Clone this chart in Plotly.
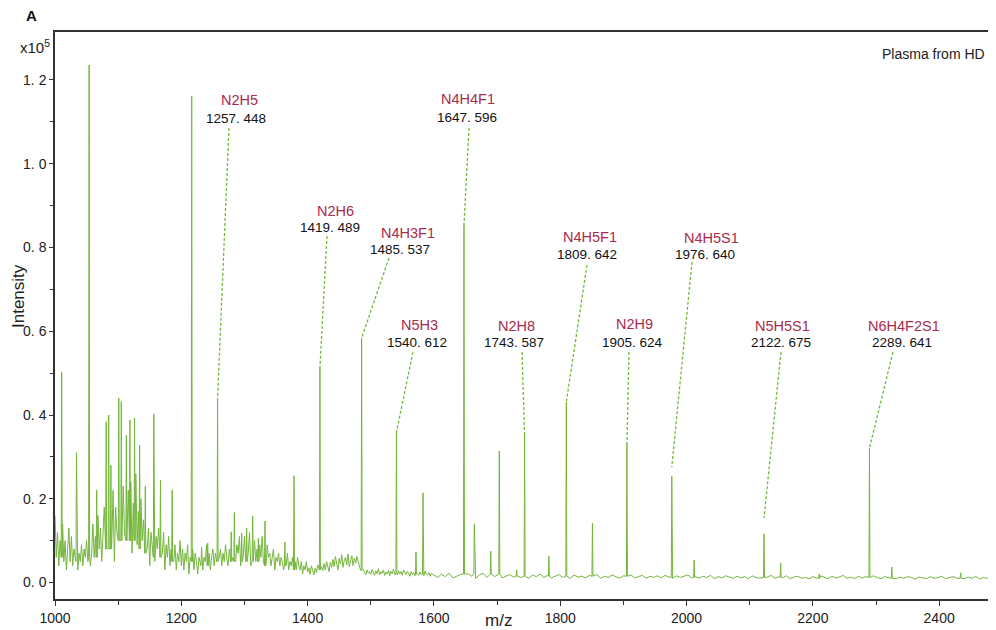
import plotly.graph_objects as go

# ---------------- data (intensity in units of 1e5) ----------------
NOISE_A_START, NOISE_A_STEP = 1000, 2
NOISE_A = [
    .16, .06, .12, .04, .10, .08, .14, .05, .10, .03,
    .09, .13, .05, .11, .04, .08, .06, .12, .03, .07,
    .05, .09, .04, .08, .06, .10, .05, .09, .04, .07,
    .14, .06, .11, .04, .16, .08, .13, .05, .12, .18,
    .09, .20, .07, .14, .26, .10, .22, .05, .18, .12,
    .25, .09, .20, .06, .23, .12, .28, .08, .22, .14,
    .24, .07, .19, .11, .26, .09, .17, .06, .20, .10,
    .15, .05, .18, .08, .13, .04, .12, .09, .14, .05,
    .11, .08, .13, .04, .10, .07, .12, .03, .09, .06,
    .11, .04, .08, .15, .05, .09, .03, .07, .05, .10,
]
NOISE_B_START, NOISE_B_STEP = 1200, 2
NOISE_B = [
    .04, .08, .03, .07, .05, .09, .02, .06, .04, .08,
    .03, .07, .05, .02, .06, .04, .08, .03, .06, .05,
    .09, .04, .07, .03, .06, .08, .04, .07, .05, .10,
    .06, .08, .04, .07, .05, .09, .06, .04, .08, .05,
    .10, .06, .12, .05, .09, .07, .11, .04, .08, .06,
    .11, .05, .09, .07, .12, .04, .08, .06, .10, .05,
    .08, .04, .09, .06, .11, .05, .07, .04, .09, .06,
    .07, .04, .06, .08, .03, .06, .05, .07, .04, .06,
    .05, .03, .06, .04, .07, .03, .05, .04, .06, .03,
    .05, .03, .06, .04, .03, .05, .02, .04, .03, .05,
]
NOISE_C_START, NOISE_C_STEP = 1400, 2
NOISE_C = [
    .025, .035, .020, .040, .028, .018, .034, .024, .042, .030,
    .022, .038, .028, .045, .030, .050, .034, .026, .048, .036,
    .055, .038, .062, .040, .030, .058, .044, .066, .036, .052,
    .060, .042, .068, .038, .054, .064, .040, .058, .046, .062,
    .050, .036, .028, .020, .032, .024, .018, .030, .022, .026,
    .019, .031, .024, .017, .028, .021, .033, .018, .026, .022,
    .030, .017, .025, .020, .029, .016, .027, .021, .032, .019,
    .024, .018, .028, .020, .026, .017, .030, .022, .019, .027,
    .021, .015, .026, .019, .024, .016, .028, .020, .017, .025,
    .019, .023, .016, .027, .020, .018, .024, .015, .022, .019,
]
NOISE_D_START, NOISE_D_STEP = 1600, 6
NOISE_D = [
    .018, .012, .020, .014, .022, .011, .016, .019, .013, .021,
    .015, .010, .018, .022, .012, .017, .014, .020, .011, .016,
    .019, .013, .021, .012, .016, .010, .018, .014, .020, .012,
    .017, .011, .015, .019, .012, .016, .010, .018, .013, .015,
    .011, .017, .013, .019, .010, .015, .012, .018, .014, .010,
    .016, .012, .018, .011, .014, .017, .010, .015, .012, .016,
    .011, .017, .013, .010, .016, .012, .015, .018, .011, .014,
    .010, .015, .012, .017, .009, .014, .011, .016, .013, .010,
    .015, .011, .014, .009, .016, .012, .010, .015, .013, .017,
    .010, .014, .011, .016, .009, .013, .015, .010, .012, .009,
    .014, .010, .016, .012, .009, .015, .011, .013, .017, .010,
    .013, .009, .015, .011, .014, .010, .016, .012, .009, .014,
    .011, .015, .009, .013, .010, .014, .012, .008, .013, .011,
    .009, .014, .010, .012, .015, .009, .011, .014, .010, .012,
    .009, .013, .010, .015, .008, .012, .010, .014, .011,
]

# peaks: apex m/z, apex intensity, local baseline at the foot
PEAK_MZ = [1010.6, 1034, 1054, 1066, 1081, 1085, 1088.5, 1101, 1105, 1113,
           1118.6, 1126, 1134, 1143, 1156.5, 1167, 1185.5, 1216.5, 1232, 1241.8,
           1257.448, 1279, 1284, 1295.6, 1303.5, 1313, 1322, 1332.5, 1364, 1378.5,
           1419.489, 1485.537, 1540.612, 1571.6, 1582.7, 1647.596, 1664, 1690, 1703.5, 1731,
           1743.587, 1782, 1809.642, 1851, 1905.624, 1976.640, 2012, 2122.675, 2149, 2210,
           2289.641, 2325, 2434]
PEAK_HEIGHT = [0.503, 0.31, 1.236, 0.221, 0.384, 0.40, 0.28, 0.44, 0.432, 0.352,
               0.388, 0.393, 0.328, 0.23, 0.402, 0.245, 0.221, 1.162, 0.085, 0.094,
               0.441, 0.121, 0.167, 0.118, 0.13, 0.159, 0.106, 0.147, 0.097, 0.255,
               0.512, 0.584, 0.359, 0.073, 0.214, 0.854, 0.14, 0.075, 0.314, 0.03,
               0.352, 0.063, 0.431, 0.142, 0.331, 0.254, 0.054, 0.116, 0.047, 0.02,
               0.321, 0.037, 0.023]
PEAK_FOOT = [0.06, 0.05, 0.06, 0.06, 0.08, 0.08, 0.08, 0.10, 0.10, 0.10,
             0.10, 0.10, 0.08, 0.07, 0.06, 0.06, 0.05, 0.05, 0.04, 0.04,
             0.05, 0.05, 0.05, 0.05, 0.05, 0.05, 0.05, 0.04, 0.04, 0.03,
             0.03, 0.03, 0.02, 0.02, 0.02, 0.02, 0.02, 0.02, 0.02, 0.015,
             0.015, 0.015, 0.015, 0.015, 0.015, 0.012, 0.012, 0.012, 0.012, 0.01,
             0.012, 0.01, 0.01]

# annotated glycans
LABEL_NAMES = ["N2H5", "N2H6", "N4H3F1", "N5H3", "N4H4F1", "N2H8", "N4H5F1",
               "N2H9", "N4H5S1", "N5H5S1", "N6H4F2S1"]
LABEL_MASSES = ["1257. 448", "1419. 489", "1485. 537", "1540. 612", "1647. 596",
                "1743. 587", "1809. 642", "1905. 624", "1976. 640", "2122. 675",
                "2289. 641"]

Y_TICKS = [0.0, 0.2, 0.4, 0.6, 0.8, 1.0, 1.2]
Y_TICKTEXT = ["0. 0", "0. 2", "0. 4", "0. 6", "0. 8", "1. 0", "1. 2"]
X_TICKS = [1000, 1200, 1400, 1600, 1800, 2000, 2200, 2400]

# ---------------- layout constants ----------------
PAGE_W, PAGE_H = 996, 630
BODY_OFF = 8                      # default page margin around the plot div
PL, PT, PB = 55, 32, 599          # plot edges in page pixels
PW, PH = PAGE_W - PL, PB - PT
W_FIG, H_FIG = PAGE_W - BODY_OFF, PAGE_H - BODY_OFF
L, T, R, B = PL - BODY_OFF, PT - BODY_OFF, 0, H_FIG - (PB - BODY_OFF)
X0, X1 = 1000, 2490
Y0, Y1 = -0.0394, 1.3146
FONT = "Liberation Sans, Arial, Helvetica, sans-serif"
GREEN = "#74b63c"
RED = "#a82c4c"
HALF_W = 0.8

def px_x(px):
    return X0 + (px - PL) / PW * (X1 - X0)

def px_y(py):
    return Y1 - (py - PT) / PH * (Y1 - Y0)

def paper_x(px):
    return (px - PL) / PW

def paper_y(py):
    return 1 - (py - PT) / PH

# label placement in page pixels: name centre, number centre, leader start, leader gap above apex
LABEL_PLACE = [
    ((239, 100), (236, 118), (229, 128), 0),
    ((335, 211), (330, 227), (327, 236), 0),
    ((408, 233), (400, 249), (389, 258), 0),
    ((419, 325), (417, 342), (413, 352), 0),
    ((468, 99), (467, 117), (469, 128), 0),
    ((516, 326), (514, 342), (522, 352), 0),
    ((590, 237), (587, 254), (587, 265), 0),
    ((634, 324), (632, 342), (629, 352), 0),
    ((711, 238), (705, 254), (692, 262), 9),
    ((782, 326), (781, 342), (781, 352), 16),
    ((904, 326), (902, 342), (893, 352), 0),
]

# ---------------- build spectrum ----------------
pts = []
for start, step, vals in [(NOISE_A_START, NOISE_A_STEP, NOISE_A),
                          (NOISE_B_START, NOISE_B_STEP, NOISE_B),
                          (NOISE_C_START, NOISE_C_STEP, NOISE_C),
                          (NOISE_D_START, NOISE_D_STEP, NOISE_D)]:
    for i, v in enumerate(vals):
        m = start + step * i
        if any(abs(m - p) < 1.2 for p in PEAK_MZ):
            continue
        pts.append((m, v))
for m, h, f in zip(PEAK_MZ, PEAK_HEIGHT, PEAK_FOOT):
    pts += [(m - HALF_W, f), (m, h), (m + HALF_W, f)]
pts.sort()
xs = [p[0] for p in pts]
ys = [p[1] for p in pts]

fig = go.Figure()
fig.add_trace(go.Scatter(x=xs, y=ys, mode="lines",
                         line=dict(color=GREEN, width=1), hoverinfo="skip",
                         showlegend=False))

annotations = []
shapes = []
px_per_unit = PH / (Y1 - Y0)
for name, mass, place in zip(LABEL_NAMES, LABEL_MASSES, LABEL_PLACE):
    (nx, ny), (mx, my), (sx, sy), gap = place
    annotations.append(dict(x=px_x(nx), y=px_y(ny), text=name, showarrow=False,
                            xanchor="center", yanchor="middle",
                            font=dict(family=FONT, size=14.5, color=RED)))
    annotations.append(dict(x=px_x(mx), y=px_y(my), text=mass, showarrow=False,
                            xanchor="center", yanchor="middle",
                            font=dict(family=FONT, size=13.5, color="#111111")))
    pk = float(mass.replace(" ", ""))
    idx = min(range(len(PEAK_MZ)), key=lambda k: abs(PEAK_MZ[k] - pk))
    shapes.append(dict(type="line", xref="x", yref="y",
                       x0=px_x(sx), y0=px_y(sy),
                       x1=PEAK_MZ[idx], y1=PEAK_HEIGHT[idx] + gap / px_per_unit,
                       line=dict(color=GREEN, width=1.3, dash="3px,2px")))

annotations += [
    dict(xref="paper", yref="paper", x=paper_x(31), y=paper_y(15), text="<b>A</b>",
         showarrow=False, xanchor="center", yanchor="middle",
         font=dict(family=FONT, size=15, color="#111111")),
    dict(xref="paper", yref="paper", x=paper_x(35), y=paper_y(46), text="x10<sup>5</sup>",
         showarrow=False, xanchor="center", yanchor="middle",
         font=dict(family=FONT, size=15, color="#222222")),
    dict(xref="paper", yref="paper", x=paper_x(987), y=paper_y(54), text="Plasma from HD",
         showarrow=False, xanchor="right", yanchor="middle",
         font=dict(family=FONT, size=14, color="#222222")),
    dict(xref="paper", yref="paper", x=paper_x(498), y=paper_y(620), text="m/z",
         showarrow=False, xanchor="center", yanchor="middle",
         font=dict(family=FONT, size=17, color="#222222")),
    dict(xref="paper", yref="paper", x=paper_x(18), y=paper_y(296), text="Intensity",
         showarrow=False, xanchor="center", yanchor="middle", textangle=-90,
         font=dict(family=FONT, size=17, color="#222222")),
]

fig.update_layout(
    width=W_FIG, height=H_FIG,
    margin=dict(l=L, r=R, t=T, b=B, pad=0),
    paper_bgcolor="white", plot_bgcolor="white",
    showlegend=False, hovermode=False,
    annotations=annotations, shapes=shapes,
    font=dict(family=FONT, size=14, color="#222222"),
)
fig.update_xaxes(range=[X0, X1], tickvals=X_TICKS, ticktext=[str(v) for v in X_TICKS],
                 showline=True, linecolor="#333333", linewidth=1.5, mirror=True,
                 ticks="outside", ticklen=5, tickwidth=1.2, tickcolor="#333333",
                 showgrid=False, zeroline=False,
                 minor=dict(ticks="outside", dtick=100, ticklen=4, tickcolor="#333333", showgrid=False),
                 tickfont=dict(family=FONT, size=14, color="#222222"))
fig.update_yaxes(range=[Y0, Y1], tickvals=Y_TICKS, ticktext=Y_TICKTEXT,
                 showline=True, linecolor="#333333", linewidth=1.5, mirror=False,
                 ticks="outside", ticklen=4, tickwidth=1.2, tickcolor="#333333",
                 showgrid=False, zeroline=False,
                 minor=dict(ticks="outside", tickvals=[0.1, 0.3, 0.5, 0.7, 0.9, 1.1],
                            ticklen=3, tickcolor="#333333", showgrid=False),
                 tickfont=dict(family=FONT, size=14, color="#222222"))

fig.write_html("out.html")
